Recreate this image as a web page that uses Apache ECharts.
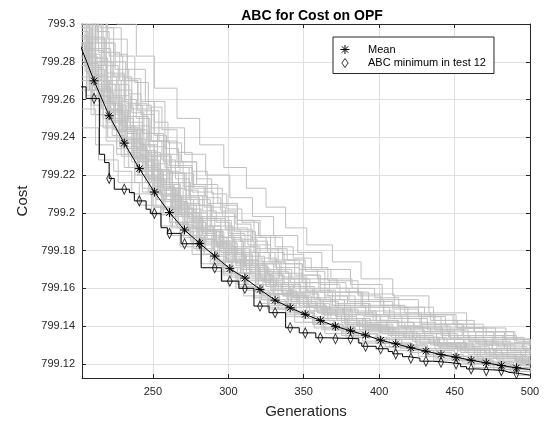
<!DOCTYPE html>
<html><head><meta charset="utf-8">
<script src="https://cdn.jsdelivr.net/npm/echarts@6/dist/echarts.min.js"></script>
<style>html,body{margin:0;padding:0;background:#fff}#c{width:551px;height:425px}</style>
</head><body><div id="c"></div>
<script>
// ---- axis ticks ----
const xTicks = [250, 300, 350, 400, 450, 500];
const xTickLabels = ['250', '300', '350', '400', '450', '500'];
const yTicks = [799.12, 799.14, 799.16, 799.18, 799.2, 799.22, 799.24, 799.26, 799.28, 799.3];
const yTickLabels = ['799.12', '799.14', '799.16', '799.18', '799.2', '799.22', '799.24', '799.26', '799.28', '799.3'];

// ---- mean over tests ----
const meanGens = [201, 211, 221, 231, 241, 251, 261, 271, 281, 291, 301, 311, 321, 331, 341, 351, 361, 371, 381, 391, 401, 411, 421, 431, 441, 451, 461, 471, 481, 491, 500];
const meanVals = [799.2905, 799.2699, 799.2514, 799.2369, 799.2234, 799.2110, 799.2001, 799.1909, 799.1838, 799.1771, 799.1704, 799.1654, 799.1594, 799.1537, 799.1497, 799.1462, 799.1430, 799.1399, 799.1375, 799.1352, 799.1325, 799.1306, 799.1285, 799.1267, 799.1249, 799.1235, 799.1219, 799.1205, 799.1191, 799.1179, 799.1170];

// ---- test 12 minimum (step changes) ----
const test12Gens = [200, 205.7, 214.5, 218, 221, 224.4, 234.4, 237.7, 245.5, 248.3, 255.4, 259.6, 268.7, 282, 295.4, 307, 317, 327, 338, 347, 358, 366, 386.5, 388.5, 398, 406, 409, 415.5, 419.5, 427, 435.5, 445.5, 454, 458, 465.5, 483, 486, 493, 500];
const test12Vals = [799.2667, 799.2606, 799.2310, 799.2266, 799.2182, 799.2125, 799.2107, 799.2063, 799.2019, 799.1997, 799.1921, 799.1891, 799.1836, 799.1709, 799.1638, 799.1600, 799.1506, 799.1471, 799.1391, 799.1364, 799.1338, 799.1333, 799.1310, 799.1293, 799.1280, 799.1265, 799.1253, 799.1238, 799.1230, 799.1214, 799.1208, 799.1200, 799.1185, 799.1173, 799.1164, 799.1155, 799.1149, 799.1140, 799.1140];
const test12MarkerGens = [211, 221, 231, 241, 251, 261, 271, 281, 291, 301, 311, 321, 331, 341, 351, 361, 371, 381, 391, 401, 411, 421, 431, 441, 451, 461, 471, 481, 491];
const test12MarkerVals = [799.2606, 799.2182, 799.2125, 799.2063, 799.1997, 799.1891, 799.1836, 799.1836, 799.1709, 799.1638, 799.1600, 799.1506, 799.1471, 799.1391, 799.1364, 799.1338, 799.1333, 799.1333, 799.1293, 799.1280, 799.1253, 799.1230, 799.1214, 799.1208, 799.1200, 799.1173, 799.1164, 799.1164, 799.1149];

// ---- individual tests (grey) ----
const trial01 = [[200,799.335],[226,799.300],[239,799.283],[251,799.266],[266,799.250],[281,799.236],[297,799.224],[312,799.213],[325,799.203],[338,799.192],[352,799.183],[369,799.174],[388,799.165],[409,799.156],[433,799.147],[458,799.139],[484,799.133],[500,799.131]];
const trial02 = [[200,799.330],[220,799.292],[233,799.276],[245,799.259],[258,799.245],[271,799.231],[285,799.220],[301,799.208],[316,799.198],[330,799.188],[346,799.179],[362,799.170],[381,799.162],[402,799.154],[426,799.146],[451,799.139],[477,799.133],[500,799.130]];
const trial03 = [[200,799.320],[217,799.285],[228,799.270],[240,799.254],[254,799.238],[266,799.227],[279,799.215],[293,799.205],[306,799.196],[321,799.187],[336,799.178],[350,799.171],[366,799.164],[386,799.157],[410,799.150],[436,799.143],[463,799.137],[490,799.131],[500,799.130]];
const trial04 = [[200,799.315],[213,799.290],[224,799.272],[236,799.255],[249,799.238],[261,799.225],[276,799.211],[290,799.200],[304,799.190],[318,799.181],[333,799.173],[349,799.165],[367,799.158],[389,799.151],[414,799.145],[441,799.139],[469,799.133],[496,799.128],[500,799.128]];
const trial05 = [[200,799.312],[208,799.292],[219,799.274],[231,799.257],[243,799.242],[257,799.227],[270,799.214],[284,799.203],[298,799.192],[313,799.183],[328,799.175],[344,799.167],[360,799.160],[380,799.153],[403,799.147],[428,799.141],[455,799.135],[482,799.130],[500,799.128]];
const trial06 = [[200,799.308],[211,799.287],[222,799.268],[234,799.251],[247,799.235],[259,799.221],[272,799.209],[286,799.198],[300,799.188],[315,799.179],[331,799.171],[347,799.163],[364,799.156],[384,799.150],[407,799.144],[432,799.138],[459,799.132],[487,799.127],[500,799.126]];
const trial07 = [[200,799.305],[206,799.290],[216,799.270],[229,799.251],[241,799.236],[253,799.222],[267,799.208],[281,799.197],[295,799.187],[309,799.177],[324,799.169],[340,799.161],[357,799.154],[377,799.148],[398,799.142],[423,799.137],[450,799.131],[478,799.126],[500,799.124]];
const trial08 = [[200,799.302],[212,799.280],[223,799.262],[235,799.246],[248,799.230],[262,799.216],[275,799.204],[289,799.193],[303,799.182],[318,799.173],[334,799.165],[351,799.158],[369,799.151],[391,799.145],[415,799.139],[442,799.133],[470,799.128],[497,799.123],[500,799.123]];
const trial09 = [[200,799.298],[209,799.278],[219,799.261],[230,799.245],[242,799.230],[255,799.215],[268,799.202],[282,799.191],[296,799.181],[311,799.171],[327,799.162],[343,799.155],[361,799.149],[382,799.143],[405,799.138],[430,799.133],[457,799.128],[485,799.123],[500,799.121]];
const trial10 = [[200,799.296],[207,799.276],[218,799.258],[227,799.243],[239,799.228],[251,799.214],[264,799.202],[278,799.191],[292,799.182],[305,799.172],[320,799.164],[336,799.156],[353,799.150],[372,799.144],[394,799.139],[418,799.134],[445,799.129],[473,799.124],[499,799.120],[500,799.120]];
const trial11 = [[200,799.293],[210,799.270],[221,799.252],[232,799.237],[244,799.222],[256,799.209],[269,799.198],[283,799.188],[297,799.178],[312,799.168],[328,799.159],[345,799.152],[363,799.146],[385,799.140],[409,799.135],[436,799.130],[463,799.125],[491,799.120],[500,799.119]];
const trial12 = [[200,799.290],[205,799.275],[214,799.259],[225,799.244],[237,799.229],[249,799.216],[262,799.203],[276,799.192],[290,799.183],[303,799.174],[318,799.165],[333,799.157],[350,799.150],[368,799.144],[389,799.139],[413,799.134],[439,799.129],[467,799.124],[494,799.119],[500,799.119]];
const trial13 = [[200,799.287],[211,799.266],[222,799.249],[233,799.234],[246,799.218],[258,799.206],[271,799.195],[285,799.184],[299,799.175],[314,799.165],[330,799.157],[347,799.150],[366,799.143],[387,799.138],[411,799.133],[437,799.128],[465,799.123],[492,799.118],[500,799.118]];
const trial14 = [[200,799.282],[208,799.265],[217,799.250],[228,799.235],[240,799.220],[252,799.207],[265,799.195],[279,799.185],[293,799.175],[308,799.166],[323,799.157],[339,799.150],[357,799.144],[378,799.138],[400,799.133],[425,799.128],[452,799.123],[480,799.118],[500,799.117]];
const trial15 = [[200,799.278],[206,799.262],[215,799.246],[226,799.231],[238,799.216],[250,799.203],[263,799.192],[277,799.181],[291,799.171],[306,799.162],[322,799.154],[338,799.147],[356,799.141],[376,799.136],[398,799.131],[422,799.126],[448,799.122],[476,799.117],[500,799.116]];
const trial16 = [[200,799.270],[209,799.252],[219,799.238],[231,799.224],[243,799.211],[256,799.199],[270,799.188],[284,799.178],[297,799.168],[312,799.159],[327,799.151],[344,799.145],[363,799.139],[384,799.134],[407,799.129],[432,799.124],[459,799.120],[487,799.116],[500,799.115]];
const trial17 = [[200,799.255],[212,799.236],[224,799.222],[236,799.210],[249,799.199],[262,799.188],[276,799.178],[290,799.169],[305,799.160],[321,799.152],[338,799.145],[357,799.139],[378,799.134],[401,799.129],[426,799.124],[453,799.120],[481,799.116],[500,799.115]];
const trial18 = [[200,799.245],[214,799.228],[227,799.216],[241,799.204],[255,799.193],[268,799.182],[282,799.173],[296,799.164],[310,799.156],[326,799.149],[344,799.142],[364,799.136],[386,799.131],[410,799.127],[436,799.122],[463,799.118],[491,799.114],[500,799.114]];
const trial19 = [[200,799.310],[219,799.280],[232,799.258],[246,799.238],[258,799.224],[274,799.207],[288,799.196],[302,799.186],[319,799.174],[335,799.166],[352,799.159],[371,799.152],[393,799.146],[419,799.140],[447,799.134],[475,799.128],[500,799.125]];
const trial20 = [[200,799.300],[212,799.268],[220,799.254],[231,799.239],[243,799.224],[254,799.212],[266,799.200],[280,799.190],[294,799.180],[309,799.170],[325,799.161],[341,799.153],[359,799.147],[380,799.141],[402,799.136],[427,799.131],[454,799.126],[482,799.121],[500,799.120]];
const trial21 = [[200,799.305],[209,799.286],[217,799.272],[226,799.259],[234,799.248],[243,799.236],[251,799.226],[260,799.216],[268,799.207],[277,799.200],[286,799.193],[295,799.187],[304,799.181],[314,799.175],[323,799.170],[333,799.165],[344,799.160],[356,799.155],[368,799.151],[381,799.147],[396,799.143],[412,799.140],[429,799.136],[447,799.133],[466,799.130],[485,799.127],[500,799.126]];
const trial22 = [[200,799.318],[210,799.293],[218,799.278],[227,799.265],[236,799.253],[244,799.242],[253,799.231],[262,799.221],[271,799.212],[280,799.204],[289,799.197],[298,799.191],[308,799.185],[317,799.179],[327,799.174],[338,799.168],[349,799.163],[361,799.158],[374,799.154],[388,799.150],[403,799.146],[419,799.142],[437,799.138],[456,799.134],[476,799.131],[495,799.128],[500,799.128]];
const trial23 = [[200,799.300],[207,799.284],[215,799.270],[223,799.257],[232,799.245],[240,799.233],[249,799.222],[257,799.213],[266,799.204],[274,799.197],[283,799.190],[292,799.184],[302,799.178],[311,799.172],[321,799.166],[332,799.161],[343,799.156],[355,799.152],[367,799.148],[380,799.144],[394,799.141],[409,799.137],[425,799.134],[443,799.131],[462,799.128],[481,799.125],[500,799.123]];
const trial24 = [[200,799.310],[212,799.282],[220,799.268],[228,799.256],[237,799.244],[246,799.232],[255,799.222],[263,799.213],[272,799.205],[281,799.198],[291,799.191],[300,799.185],[310,799.179],[320,799.173],[330,799.168],[341,799.163],[352,799.158],[364,799.154],[377,799.150],[391,799.146],[406,799.142],[423,799.139],[441,799.135],[460,799.132],[479,799.129],[498,799.126],[500,799.126]];
const trial25 = [[200,799.296],[206,799.283],[213,799.270],[221,799.258],[229,799.246],[238,799.235],[246,799.225],[255,799.215],[264,799.206],[273,799.198],[282,799.191],[291,799.185],[300,799.179],[310,799.173],[320,799.167],[330,799.161],[341,799.156],[352,799.152],[364,799.148],[377,799.144],[391,799.140],[406,799.137],[422,799.134],[439,799.131],[457,799.128],[476,799.125],[495,799.122],[500,799.122]];
const trial26 = [[200,799.325],[215,799.298],[224,799.284],[233,799.271],[242,799.259],[251,799.248],[260,799.237],[269,799.227],[279,799.218],[289,799.210],[299,799.202],[309,799.195],[320,799.188],[331,799.182],[343,799.176],[355,799.170],[368,799.165],[382,799.160],[397,799.155],[413,799.150],[430,799.146],[449,799.141],[469,799.137],[489,799.133],[500,799.132]];
const trial27 = [[200,799.292],[208,799.277],[216,799.264],[224,799.253],[233,799.242],[241,799.231],[250,799.220],[259,799.210],[267,799.202],[276,799.195],[285,799.188],[294,799.181],[304,799.175],[314,799.169],[324,799.163],[335,799.158],[346,799.153],[358,799.149],[371,799.145],[385,799.141],[400,799.137],[416,799.134],[433,799.131],[451,799.128],[470,799.125],[490,799.122],[500,799.121]];
const trial28 = [[200,799.312],[214,799.285],[222,799.273],[231,799.260],[239,799.250],[248,799.238],[256,799.228],[265,799.218],[274,799.209],[283,799.201],[292,799.195],[301,799.189],[311,799.182],[321,799.176],[332,799.170],[342,799.165],[354,799.160],[366,799.156],[379,799.152],[394,799.148],[410,799.144],[427,799.141],[445,799.137],[464,799.134],[484,799.131],[500,799.129]];
const trial29 = [[200,799.288],[207,799.273],[214,799.262],[222,799.250],[230,799.239],[238,799.229],[247,799.218],[255,799.209],[264,799.200],[273,799.192],[282,799.186],[291,799.180],[300,799.174],[310,799.168],[320,799.162],[331,799.157],[342,799.152],[354,799.148],[366,799.144],[379,799.140],[393,799.137],[408,799.134],[424,799.131],[441,799.128],[459,799.125],[478,799.122],[497,799.119],[500,799.119]];
const trial30 = [[200,799.330],[219,799.298],[229,799.283],[238,799.269],[247,799.256],[256,799.244],[266,799.232],[276,799.222],[286,799.213],[296,799.204],[306,799.196],[317,799.188],[328,799.181],[339,799.175],[351,799.169],[364,799.163],[378,799.158],[393,799.153],[409,799.149],[426,799.145],[444,799.141],[463,799.137],[483,799.133],[500,799.131]];
const trial31 = [[200,799.302],[210,799.280],[219,799.265],[227,799.254],[235,799.244],[244,799.233],[252,799.223],[261,799.213],[270,799.204],[279,799.196],[288,799.190],[297,799.184],[306,799.178],[316,799.172],[326,799.167],[337,799.162],[348,799.157],[360,799.153],[373,799.149],[386,799.146],[401,799.142],[417,799.139],[434,799.136],[452,799.133],[471,799.130],[490,799.127],[500,799.126]];
const trial32 = [[200,799.265],[211,799.252],[220,799.240],[229,799.230],[238,799.220],[247,799.211],[256,799.202],[265,799.194],[274,799.187],[283,799.180],[292,799.174],[302,799.168],[312,799.162],[322,799.157],[333,799.152],[345,799.147],[357,799.143],[370,799.140],[384,799.136],[399,799.133],[415,799.130],[432,799.127],[450,799.124],[469,799.121],[489,799.118],[500,799.117]];
const trial33 = [[200,799.320],[216,799.290],[225,799.276],[234,799.263],[242,799.252],[251,799.241],[259,799.231],[268,799.221],[277,799.213],[286,799.205],[296,799.198],[306,799.191],[316,799.185],[326,799.179],[337,799.173],[349,799.167],[361,799.162],[374,799.158],[388,799.154],[403,799.150],[419,799.146],[437,799.141],[456,799.137],[476,799.134],[496,799.131],[500,799.131]];
const trial34 = [[200,799.298],[205,799.286],[212,799.273],[220,799.261],[228,799.250],[237,799.239],[245,799.228],[254,799.218],[263,799.209],[272,799.200],[281,799.193],[290,799.187],[299,799.181],[309,799.175],[319,799.169],[329,799.163],[340,799.158],[351,799.154],[363,799.150],[376,799.146],[390,799.142],[405,799.139],[421,799.136],[438,799.133],[456,799.130],[475,799.127],[494,799.124],[500,799.124]];
const trial35 = [[200,799.322],[213,799.296],[221,799.283],[230,799.270],[240,799.257],[249,799.245],[258,799.234],[267,799.224],[276,799.215],[285,799.208],[295,799.201],[305,799.194],[315,799.187],[325,799.181],[336,799.175],[347,799.170],[359,799.165],[372,799.160],[386,799.156],[401,799.151],[417,799.147],[434,799.143],[452,799.139],[471,799.135],[491,799.132],[500,799.131]];
const trial36 = [[200,799.290],[209,799.272],[217,799.259],[225,799.248],[233,799.238],[242,799.227],[250,799.217],[259,799.207],[268,799.199],[277,799.192],[286,799.186],[295,799.179],[305,799.173],[315,799.167],[325,799.161],[336,799.156],[347,799.151],[359,799.147],[372,799.143],[386,799.140],[401,799.136],[417,799.133],[434,799.130],[452,799.127],[471,799.124],[490,799.121],[500,799.120]];
const trial37 = [[200,799.283],[208,799.268],[216,799.255],[224,799.244],[233,799.232],[241,799.222],[250,799.211],[258,799.202],[267,799.194],[276,799.187],[285,799.180],[294,799.174],[303,799.168],[313,799.162],[323,799.156],[334,799.151],[345,799.147],[357,799.143],[370,799.139],[384,799.136],[399,799.133],[415,799.130],[432,799.127],[450,799.124],[469,799.121],[488,799.118],[500,799.117]];
const trial38 = [[200,799.278],[207,799.265],[215,799.252],[223,799.241],[231,799.231],[240,799.220],[248,799.210],[257,799.200],[266,799.192],[275,799.185],[284,799.178],[293,799.172],[302,799.166],[312,799.160],[322,799.154],[333,799.149],[344,799.145],[356,799.141],[369,799.138],[383,799.134],[398,799.131],[414,799.128],[431,799.125],[449,799.122],[468,799.120],[487,799.117],[500,799.116]];
const trial39 = [[200,799.272],[209,799.257],[217,799.245],[226,799.234],[234,799.224],[243,799.213],[252,799.203],[261,799.195],[270,799.187],[279,799.180],[288,799.173],[297,799.167],[307,799.161],[317,799.155],[327,799.150],[338,799.146],[350,799.142],[362,799.138],[375,799.135],[389,799.132],[404,799.129],[420,799.126],[437,799.123],[455,799.121],[474,799.118],[493,799.116],[500,799.116]];
const trial40 = [[200,799.286],[206,799.274],[213,799.262],[221,799.250],[229,799.240],[237,799.230],[246,799.219],[254,799.210],[263,799.201],[272,799.193],[281,799.186],[290,799.180],[299,799.174],[309,799.168],[319,799.162],[329,799.157],[340,799.152],[352,799.148],[364,799.144],[377,799.141],[391,799.138],[406,799.135],[422,799.132],[439,799.129],[457,799.126],[476,799.123],[495,799.120],[500,799.120]];
const trial41 = [[200,799.294],[207,799.279],[214,799.267],[222,799.255],[230,799.244],[239,799.233],[247,799.223],[256,799.213],[265,799.204],[274,799.196],[283,799.189],[292,799.183],[301,799.177],[311,799.171],[321,799.165],[331,799.160],[342,799.155],[353,799.151],[365,799.147],[378,799.143],[392,799.140],[407,799.137],[423,799.134],[440,799.131],[458,799.128],[477,799.125],[496,799.122],[500,799.122]];
const trial42 = [[200,799.280],[210,799.262],[219,799.248],[228,799.237],[236,799.227],[245,799.216],[253,799.207],[262,799.198],[271,799.190],[280,799.183],[289,799.177],[298,799.171],[308,799.164],[318,799.158],[328,799.153],[339,799.148],[351,799.144],[363,799.141],[376,799.137],[390,799.134],[405,799.131],[421,799.128],[438,799.125],[456,799.122],[475,799.119],[494,799.117],[500,799.117]];
const trial43 = [[200,799.299],[208,799.282],[216,799.268],[225,799.255],[233,799.244],[242,799.233],[251,799.222],[259,799.213],[268,799.205],[277,799.198],[286,799.191],[295,799.185],[305,799.179],[315,799.173],[325,799.168],[336,799.163],[347,799.158],[359,799.154],[371,799.150],[384,799.147],[398,799.143],[413,799.140],[429,799.137],[446,799.134],[464,799.131],[483,799.128],[500,799.125]];
const trial44 = [[200,799.289],[205,799.278],[212,799.265],[220,799.254],[228,799.243],[236,799.233],[245,799.222],[253,799.212],[262,799.203],[271,799.195],[280,799.188],[289,799.182],[298,799.176],[308,799.170],[318,799.164],[328,799.159],[339,799.154],[350,799.150],[362,799.146],[375,799.142],[389,799.139],[404,799.136],[420,799.133],[437,799.130],[455,799.127],[474,799.124],[493,799.121],[500,799.121]];
const trials = [trial01, trial02, trial03, trial04, trial05, trial06, trial07, trial08, trial09, trial10,
                trial11, trial12, trial13, trial14, trial15, trial16, trial17, trial18, trial19, trial20,
                trial21, trial22, trial23, trial24, trial25, trial26, trial27, trial28, trial29, trial30,
                trial31, trial32, trial33, trial34, trial35, trial36, trial37, trial38, trial39, trial40,
                trial41, trial42, trial43, trial44];

// ---- styling ----
const FONT = 'Liberation Sans, Arial, Helvetica, sans-serif';
const AX = '#262626';
const GRIDC = '#e0e0e0';
const ASTER = 'path://M5,0L5,10M0,5L10,5M1.5,1.5L8.5,8.5M1.5,8.5L8.5,1.5';
const DIAM = 'path://M3.5,0L7,5L3.5,10L0,5Z';

function labelFrom(ticks, labels) {
  return function (v) {
    let best = -1, bd = Infinity;
    ticks.forEach((t, i) => { const d = Math.abs(t - v); if (d < bd) { bd = d; best = i; } });
    return bd < 1e-6 ? labels[best] : '';
  };
}

const series = [];
trials.forEach((t, i) => {
  series.push({
    name: 'test' + (i + 1), type: 'line', step: 'end', data: t,
    showSymbol: false, symbol: 'none', clip: true, silent: true,
    lineStyle: { color: '#c0c0c0', width: 1 }, z: 1
  });
});
series.push({
  name: 'test12line', type: 'line', step: 'end',
  data: test12Gens.map((g, i) => [g, test12Vals[i]]),
  symbol: 'none', clip: true, lineStyle: { color: '#000', width: 1 }, z: 3
});
series.push({
  name: 'ABC minimum in test 12', type: 'scatter',
  data: test12MarkerGens.map((g, i) => [g, test12MarkerVals[i]]),
  symbol: DIAM, symbolSize: [7, 10], symbolKeepAspect: true, clip: true,
  itemStyle: { color: 'rgba(0,0,0,0)', borderColor: '#000', borderWidth: 1 }, z: 4
});
series.push({
  name: 'Mean', type: 'line',
  data: meanGens.map((g, i) => {
    const item = { value: [g, meanVals[i]] };
    if (i === 0 || i === meanGens.length - 1) item.symbol = 'none';
    return item;
  }),
  symbol: ASTER, symbolSize: 9, showAllSymbol: true, clip: true,
  lineStyle: { color: '#000', width: 1 },
  itemStyle: { color: 'rgba(0,0,0,0)', borderColor: '#000', borderWidth: 1 }, z: 5
});

const xBase = {
  type: 'value', min: 203, max: 500, splitNumber: 6,
  axisLine: { show: true, onZero: false, lineStyle: { color: AX, width: 1 } },
  axisTick: { show: true, inside: true, length: 4, customValues: xTicks, lineStyle: { color: AX } }
};
const yBase = {
  type: 'value', min: 799.1125, max: 799.3, splitNumber: 9, scale: true,
  axisLine: { show: true, onZero: false, lineStyle: { color: AX, width: 1 } },
  axisTick: { show: true, inside: true, length: 4, customValues: yTicks, lineStyle: { color: AX } }
};

const option = {
  animation: false,
  backgroundColor: '#fff',
  textStyle: { fontFamily: FONT },
  title: {
    text: 'ABC for Cost on OPF', left: 307, top: 4, textAlign: 'center',
    textStyle: { fontFamily: FONT, fontSize: 14, fontWeight: 'bold', color: '#000' }
  },
  grid: { left: 82, right: 21, top: 24, bottom: 47, containLabel: false },
  legend: {
    orient: 'vertical', left: 333, top: 37,
    padding: [7, 8, 5, 7], itemGap: 2.5, itemWidth: 36, itemHeight: 9,
    borderColor: AX, borderWidth: 1, backgroundColor: '#fff',
    textStyle: { fontFamily: FONT, fontSize: 11, color: '#000' },
    selectedMode: false,
    data: [
      { name: 'Mean', icon: ASTER, itemStyle: { color: 'rgba(0,0,0,0)', borderColor: '#000', borderWidth: 1 } },
      { name: 'ABC minimum in test 12', icon: DIAM, itemStyle: { color: 'rgba(0,0,0,0)', borderColor: '#000', borderWidth: 1 } }
    ]
  },
  xAxis: [
    Object.assign({}, xBase, {
      position: 'bottom',
      name: 'Generations', nameLocation: 'middle', nameGap: 26,
      nameTextStyle: { fontFamily: FONT, fontSize: 15, color: AX },
      axisLabel: { show: true, customValues: xTicks, formatter: labelFrom(xTicks, xTickLabels), margin: 8, color: AX, fontFamily: FONT, fontSize: 11 },
      splitLine: { show: true, customValues: xTicks, lineStyle: { color: GRIDC, width: 1 } }
    }),
    Object.assign({}, xBase, {
      position: 'top', axisLabel: { show: false }, splitLine: { show: false }
    })
  ],
  yAxis: [
    Object.assign({}, yBase, {
      position: 'left',
      name: 'Cost', nameLocation: 'middle', nameGap: 52,
      nameTextStyle: { fontFamily: FONT, fontSize: 15, color: AX },
      axisLabel: { show: true, customValues: yTicks, formatter: labelFrom(yTicks, yTickLabels), margin: 7, color: AX, fontFamily: FONT, fontSize: 11 },
      splitLine: { show: true, customValues: yTicks, lineStyle: { color: GRIDC, width: 1 } }
    }),
    Object.assign({}, yBase, {
      position: 'right', axisLabel: { show: false }, splitLine: { show: false }
    })
  ],
  series: series
};

const chart = echarts.init(document.getElementById('c'), null, { renderer: 'canvas' });
chart.setOption(option);
</script>
</body></html>
